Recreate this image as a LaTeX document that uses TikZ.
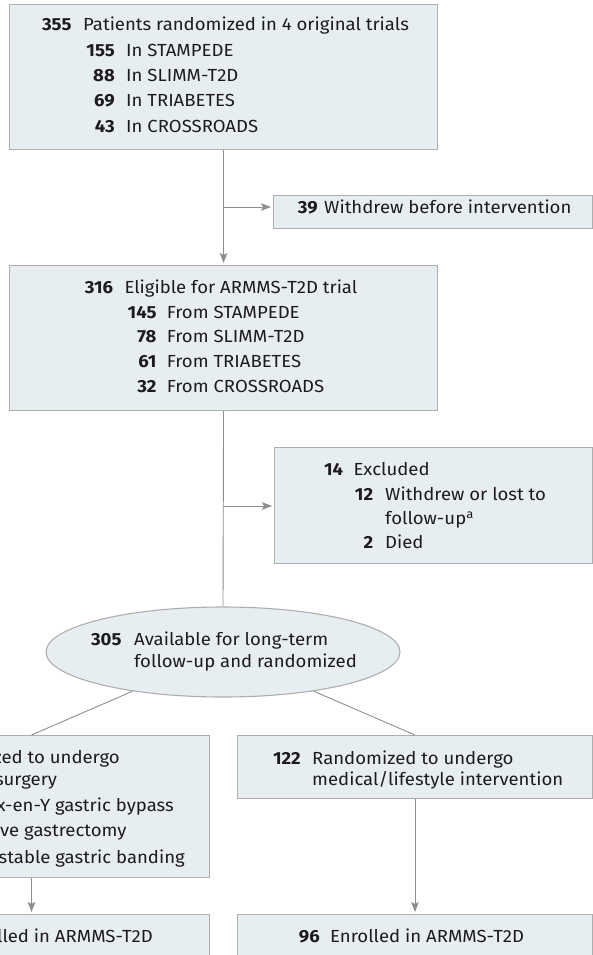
\documentclass[tikz,border=0pt]{standalone}
\usepackage{fontspec}
\setmainfont[FakeStretch=1.06]{Fira Sans}
\usetikzlibrary{arrows.meta,shapes.geometric}

\definecolor{boxfill}{RGB}{231,238,242}
\definecolor{boxline}{RGB}{172,174,176}
\definecolor{linkline}{RGB}{140,142,145}
\definecolor{ink}{RGB}{30,27,28}

\tikzset{
  stagebox/.style={draw=boxline, line width=1.1pt, fill=boxfill, rectangle,
    inner sep=0pt, anchor=north west},
  poolshape/.style={draw=boxline, line width=1.1pt, fill=boxfill, ellipse,
    inner sep=0pt},
  link/.style={draw=linkline, line width=0.9pt},
  arrowlink/.style={link, -{Stealth[length=10pt,width=7.5pt,inset=2pt]},
    shorten >=2pt},
  txt/.style={inner sep=0pt, anchor=base west, text=ink,
    font=\fontsize{17.5}{20}\selectfont},
  rtxt/.style={txt, anchor=base east},
  num/.style={txt, anchor=base east, font=\fontsize{17.5}{20}\selectfont\bfseries},
}

\begin{document}
\begin{tikzpicture}[x=1pt, y=-1pt]
\useasboundingbox (0,0) rectangle (593,955);
\clip (0,0) rectangle (593,955);

% boxes
\node[stagebox, minimum width=428pt, minimum height=145pt] (trials) at (9,4) {};
\node[stagebox, minimum width=319pt, minimum height=32.5pt] (withdrawn) at (273,195) {};
\node[stagebox, minimum width=428pt, minimum height=145pt] (eligible) at (9,265) {};
\node[stagebox, minimum width=318pt, minimum height=116pt] (excluded) at (274,447) {};
\node[poolshape, minimum width=354pt, minimum height=90pt] (pool) at (223,652) {};
\node[stagebox, minimum width=309pt, minimum height=142pt] (surgery) at (-100,735) {};
\node[stagebox, minimum width=355pt, minimum height=63pt] (lifestyle) at (237,735) {};
\node[stagebox, minimum width=309pt, minimum height=80pt] (enrolledL) at (-100,914) {};
\node[stagebox, minimum width=355pt, minimum height=80pt] (enrolledR) at (237,914) {};

% connectors
\coordinate (split1) at (223,207);
\coordinate (split2) at (223,506);
\coordinate (lcol) at (31.5,0);
\coordinate (rcol) at (415,0);

\draw[arrowlink] (trials.south) -- (eligible.north);
\draw[arrowlink] (split1) -- (split1 -| withdrawn.west);
\draw[link] (eligible.south) -- (pool.north);
\draw[arrowlink] (split2) -- (split2 -| excluded.west);
\draw[link] (pool) -- (lcol |- surgery.north);
\draw[link] (pool) -- (rcol |- lifestyle.north);
\draw[arrowlink] (lcol |- surgery.south) -- (lcol |- enrolledL.north);
\draw[arrowlink] (rcol |- lifestyle.south) -- (rcol |- enrolledR.north);

% original trials
\node[num] (n355) at (71.7,31) {355};
\node[txt] (t355) at (83,31) {Patients randomized in 4 original trials};
\node[num] (n155) at (115,56.7) {155};
\node[txt] (t155) at (126,56.7) {In STAMPEDE};
\node[num] (n88) at (115,81.7) {88};
\node[txt] (t88) at (126,81.7) {In SLIMM-T2D};
\node[num] (n69) at (115,107) {69};
\node[txt] (t69) at (126,107) {In TRIABETES};
\node[num] (n43) at (115,132) {43};
\node[txt] (t43) at (126,132) {In CROSSROADS};

% withdrawn
\node[num] (n39) at (318,213.5) {39};
\node[txt] (t39) at (324,213.5) {Withdrew before intervention};

% eligible
\node[num] (n316) at (113.3,293.3) {316};
\node[txt] (t316) at (124.3,293.3) {Eligible for ARMMS-T2D trial};
\node[num] (n145) at (156.7,318.3) {145};
\node[txt] (t145) at (166.7,318.3) {From STAMPEDE};
\node[num] (n78) at (156.7,342.7) {78};
\node[txt] (t78) at (166.7,342.7) {From SLIMM-T2D};
\node[num] (n61) at (156.7,367.7) {61};
\node[txt] (t61) at (166.7,367.7) {From TRIABETES};
\node[num] (n32) at (156.7,392.3) {32};
\node[txt] (t32) at (166.7,392.3) {From CROSSROADS};

% excluded
\node[num] (n14) at (343.3,475) {14};
\node[txt] (t14) at (353.3,475) {Excluded};
\node[num] (n12) at (373.3,500) {12};
\node[txt] (t12) at (385,500) {Withdrew or lost to};
\node[txt] (t12b) at (385,524.3) {follow-up\textsuperscript{a}};
\node[num] (n2) at (373.3,548.3) {2};
\node[txt] (t2) at (385,548.3) {Died};

% pool
\node[num] (n305) at (121.7,645) {305};
\node[txt] (t305) at (134,645) {Available for long-term};
\node[txt] (t305b) at (134,667) {follow-up and randomized};

% surgery arm
\node[rtxt] (s1) at (120,763.3) {Randomized to undergo};
\node[rtxt] (s2) at (57.3,785) {bariatric surgery};
\node[rtxt] (s3) at (174,811.7) {Roux-en-Y gastric bypass};
\node[rtxt] (s4) at (126.7,836.7) {Sleeve gastrectomy};
\node[rtxt] (s5) at (185,863.3) {Adjustable gastric banding};
\node[rtxt] (s6) at (153,942) {Enrolled in ARMMS-T2D};

% lifestyle arm
\node[num] (n122) at (301,764.3) {122};
\node[txt] (t122) at (312,764.3) {Randomized to undergo};
\node[txt] (t122b) at (312,785.7) {medical/lifestyle intervention};
\node[num] (n96) at (320,942) {96};
\node[txt] (t96) at (330,942) {Enrolled in ARMMS-T2D};
\end{tikzpicture}
\end{document}
